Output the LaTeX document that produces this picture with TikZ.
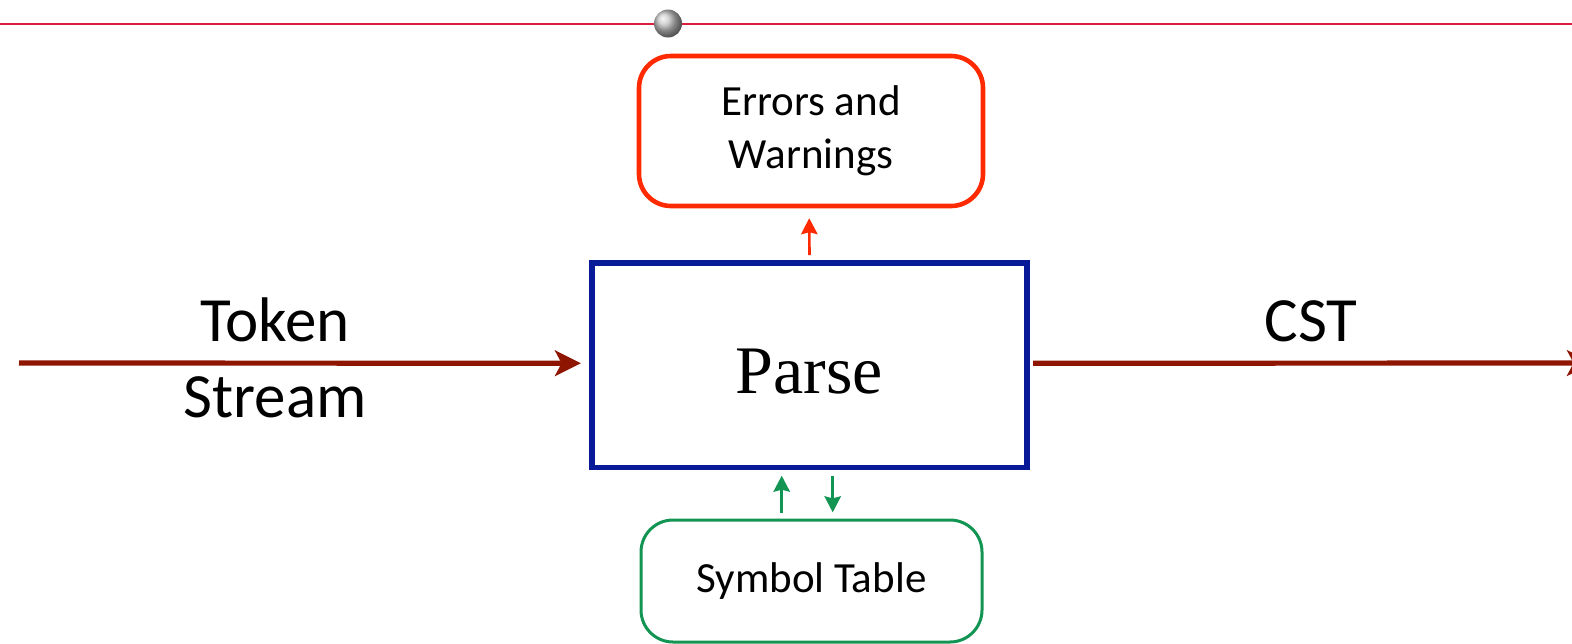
\documentclass[tikz,border=0pt]{standalone}
\usepackage{fontspec}
\newfontfamily\calibri{Carlito}
\newfontfamily\timesface{Liberation Serif}
\usetikzlibrary{arrows.meta}
\definecolor{railred}{RGB}{214,32,62}
\definecolor{flowred}{RGB}{142,22,0}
\definecolor{errred}{RGB}{255,42,0}
\definecolor{parseblue}{RGB}{8,26,152}
\definecolor{symgreen}{RGB}{18,148,82}
\begin{document}
\begin{tikzpicture}[x=0.5pt,y=-0.5pt,
  sidebox/.style={draw, rounded corners=16pt, outer sep=0pt, inner sep=0pt, align=center,
    font=\calibri\fontsize{21.5pt}{26.5pt}\selectfont},
  bigtext/.style={align=center, inner sep=0pt, font=\calibri\fontsize{31.5pt}{38.3pt}\selectfont},
  flow/.style={draw=flowred, line width=2.6pt,
    -{Stealth[length=13pt,width=12.8pt,inset=3.3pt]}},
  smallflow/.style={line width=1.3pt, -{Stealth[length=8pt,width=8.2pt,inset=1pt]}}
]
\useasboundingbox (0,0) rectangle (1572,643);
\clip (0,0) rectangle (1572,643);

% rail across the top with its knob
\coordinate (railL) at (0,24);
\coordinate (railR) at (1572,24);
\draw[railred, line width=1.3pt] (railL) -- (railR);
\node[circle, minimum size=14pt, inner sep=0pt, shading=ball, ball color=gray!45] (knob) at (668,23.5) {};

% central stage and its side stores
\node[draw=parseblue, line width=2.8pt, outer sep=0pt, inner sep=0pt,
      minimum width=217.5pt, minimum height=102.25pt,
      font=\timesface\fontsize{34pt}{40pt}\selectfont, text height=28.5pt, text depth=0pt]
  (parse) at (809.5,365.25) {Parse};
\node[sidebox, draw=errred, line width=2.3pt, minimum width=172pt, minimum height=75pt]
  (errors) at (811,131) {Errors and\\Warnings};
\node[sidebox, draw=symgreen, line width=1.5pt, minimum width=170.5pt, minimum height=61pt]
  (symtab) at (811.5,581) {Symbol Table};

% input and output labels
\node[bigtext] (tokens) at (275,358) {Token\\Stream};
\node[bigtext] (cst) at (1311,321) {CST};

% main data flow
\coordinate (srcin) at (19,363);
\coordinate (sinkout) at (1593,363);
\draw[flow] (srcin) -- ([xshift=-5.5pt,yshift=1pt]parse.west);
\draw[flow] ([xshift=3pt,yshift=1pt]parse.east) -- (sinkout);

% side channels
\draw[smallflow, errred] ([yshift=4pt]parse.north) -- ([xshift=-0.9pt,yshift=-6.1pt]errors.south);
\draw[smallflow, symgreen] ([xshift=-14.9pt,yshift=3.65pt]symtab.north) -- ([xshift=-13.9pt,yshift=-4.1pt]parse.south);
\draw[smallflow, symgreen] ([xshift=11.6pt,yshift=-4.1pt]parse.south) -- ([xshift=10.6pt,yshift=3.85pt]symtab.north);
\end{tikzpicture}
\end{document}
